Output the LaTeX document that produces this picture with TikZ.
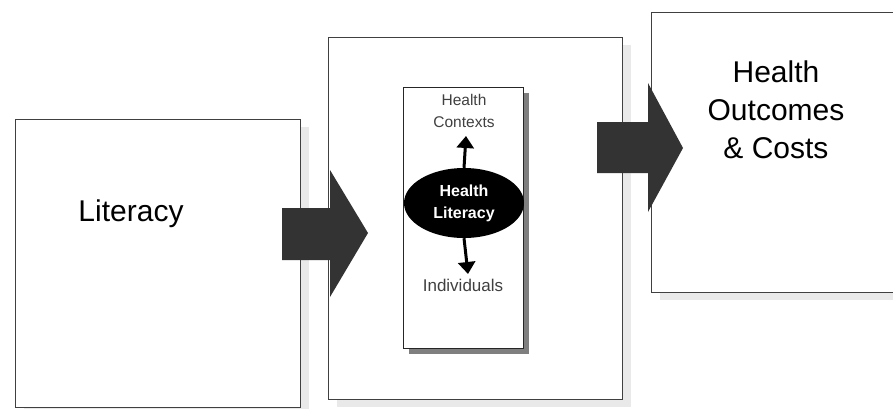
\documentclass[tikz,border=0pt]{standalone}
\usepackage{fontspec}
\setmainfont{Liberation Sans}
\usetikzlibrary{shapes.geometric,shadows,arrows.meta}
\definecolor{arrowgray}{HTML}{333333}
\definecolor{lightshadow}{HTML}{E9E9E9}
\definecolor{darkshadow}{HTML}{7F7F7F}
\tikzset{
  bigbox/.style={draw=black!75, line width=1.2pt, fill=white, anchor=north west, inner sep=0pt,
    drop shadow={shadow xshift=8pt, shadow yshift=-7pt, fill=lightshadow, opacity=1}},
  innerbox/.style={draw=black!85, line width=1.2pt, fill=white, anchor=north west, inner sep=0pt,
    drop shadow={shadow xshift=5pt, shadow yshift=-5pt, fill=darkshadow, opacity=1}},
  bigtext/.style={font=\fontsize{30}{38}\selectfont, align=center, inner sep=0pt},
  smalltext/.style={font=\fontsize{15.5}{22}\selectfont, text=black!75, align=center, inner sep=0pt},
  smallarrow/.style={line width=3pt, -{Triangle[width=17pt,length=12pt]}},
}
\begin{document}
\begin{tikzpicture}[x=1pt,y=-1pt]
\useasboundingbox (0,0) rectangle (893,408);
% the three boxes
\node[bigbox, minimum width=285pt, minimum height=288pt] (litbox) at (15,119) {};
\node[bigbox, minimum width=294pt, minimum height=362pt] (midbox) at (328,37) {};
\node[bigbox, minimum width=250pt, minimum height=280pt] (outbox) at (651,12) {};
\node[innerbox, minimum width=120pt, minimum height=261pt] (inner) at (403,87) {};
% texts
\node[bigtext, anchor=base] (lit) at (131,221) {Literacy};
\node[bigtext] (outc) at (776,110) {Health\\Outcomes\\\& Costs};
\node[smalltext] (ctx) at (464,111) {Health\\Contexts};
\node[smalltext, anchor=base, font=\fontsize{17}{22}\selectfont] (ind) at (463,291) {Individuals};
\node[ellipse, fill=black, minimum width=120pt, minimum height=70pt, inner sep=0pt,
  text=white, align=center, font=\bfseries\fontsize{16}{22}\selectfont] (hl) at (464,203) {Health\\Literacy};
% small arrows
\coordinate (ctxtip) at (466,136);
\coordinate (indtip) at (468,274);
\draw[smallarrow] (hl.north) -- (ctxtip);
\draw[smallarrow] (hl.south) -- (indtip);
% block arrows
\fill[arrowgray] (282,208) -- (330,208) -- (330,170) -- (368,233) -- (330,297) -- (330,260) -- (282,260) -- cycle;
\fill[arrowgray] (597,122) -- (648,122) -- (648,83) -- (683,148) -- (648,212) -- (648,173) -- (597,173) -- cycle;
\end{tikzpicture}
\end{document}
